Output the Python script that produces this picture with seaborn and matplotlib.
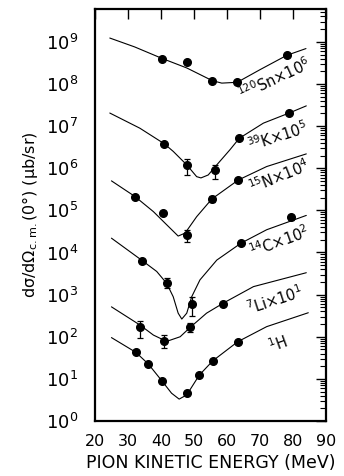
import numpy as np
import pandas as pd
import seaborn as sns
import matplotlib.pyplot as plt
from matplotlib.ticker import LogLocator, NullFormatter

# measured points: energy (MeV), value, error low, error high
sn_x = [40.2, 47.9, 55.5, 63.1, 78.1]
sn_y = [3.9e8, 3.3e8, 1.2e8, 1.1e8, 4.8e8]
sn_lo = sn_y
sn_hi = sn_y

k_x = [41.0, 47.9, 56.5, 63.7, 78.8]
k_y = [3.8e6, 1.2e6, 9.1e5, 5.1e6, 2.0e7]
k_lo = [3.8e6, 0.7e6, 5.5e5, 5.1e6, 2.0e7]
k_hi = [3.8e6, 1.7e6, 1.2e6, 5.1e6, 2.0e7]

n_x = [32.1, 40.5, 47.8, 55.4, 63.4]
n_y = [2.1e5, 8.5e4, 2.6e4, 1.9e5, 5.2e5]
n_lo = [2.1e5, 7.6e4, 1.8e4, 1.6e5, 5.2e5]
n_hi = [2.1e5, 9.5e4, 3.5e4, 2.2e5, 5.2e5]

c_x = [34.1, 41.7, 49.3, 64.2, 79.3]
c_y = [6.3e3, 1.9e3, 6.0e2, 1.7e4, 6.8e4]
c_lo = [5.6e3, 1.4e3, 3.1e2, 1.7e4, 6.0e4]
c_hi = [7.0e3, 2.5e3, 9.0e2, 1.7e4, 7.6e4]

li_x = [33.6, 41.0, 48.8, 58.9]
li_y = [1.7e2, 8.1e1, 1.7e2, 6.0e2]
li_lo = [9.5e1, 5.4e1, 1.3e2, 6.0e2]
li_hi = [2.4e2, 1.1e2, 2.1e2, 6.0e2]

h_x = [32.4, 36.2, 40.2, 48.0, 51.6, 55.7, 63.2]
h_y = [43, 22, 9.1, 4.6, 12.3, 27, 76]
h_lo = h_y
h_hi = h_y

# theory curves (energy, log10 value)
sn_cx = [24.5, 32.0, 40.2, 47.8, 55.5, 58.4, 63.1, 70.0, 78.1, 83.9]
sn_cy = [9.09, 8.88, 8.61, 8.38, 8.08, 8.02, 8.04, 8.34, 8.68, 8.84]
k_cx = [24.5, 33.6, 41.0, 43.7, 47.8, 50.8, 52.1, 54.3, 56.9, 60.9, 63.7, 71.0, 78.8, 84.0]
k_cy = [7.31, 6.95, 6.58, 6.40, 6.08, 5.80, 5.77, 5.84, 6.08, 6.44, 6.71, 7.07, 7.31, 7.48]
n_cx = [25.0, 32.1, 37.7, 41.7, 45.2, 47.3, 50.8, 55.4, 63.4, 72.0, 84.0]
n_cy = [5.70, 5.33, 4.97, 4.66, 4.39, 4.46, 4.85, 5.27, 5.72, 6.04, 6.34]
c_cx = [25.0, 34.1, 38.7, 41.7, 43.7, 45.2, 46.3, 47.8, 49.3, 51.8, 56.9, 64.2, 72.0, 84.0]
c_cy = [4.34, 3.82, 3.55, 3.27, 2.95, 2.56, 2.42, 2.56, 2.95, 3.35, 3.82, 4.22, 4.54, 4.88]
li_cx = [25.0, 33.6, 37.7, 41.7, 45.8, 48.8, 53.8, 58.9, 68.0, 84.0]
li_cy = [2.71, 2.28, 2.04, 1.89, 2.00, 2.22, 2.56, 2.80, 3.19, 3.52]
h_cx = [25.0, 32.4, 36.2, 40.2, 43.2, 45.5, 47.8, 51.6, 55.7, 63.2, 72.0, 84.6]
h_cy = [1.98, 1.63, 1.35, 0.96, 0.66, 0.52, 0.62, 1.09, 1.43, 1.88, 2.24, 2.57]

labels = [r'$^{120}$Sn×10$^{6}$', r'$^{39}$K×10$^{5}$', r'$^{15}$N×10$^{4}$',
          r'$^{14}$C×10$^{2}$', r'$^{7}$Li×10$^{1}$', r'$^{1}$H']
label_x = [74.5, 75.5, 75.8, 75.8, 74.5, 75.5]
label_y = [1.3e8, 5.6e6, 6.3e5, 1.8e4, 7.5e2, 68]
label_rot = [25, 18, 22, 20, 18, 20]

sns.set_style('white')
plt.rcParams['font.family'] = ['DejaVu Sans']
plt.rcParams['mathtext.default'] = 'regular'
for key in ['text.color', 'axes.labelcolor', 'xtick.color', 'ytick.color', 'axes.edgecolor']:
    plt.rcParams[key] = 'black'

fig = plt.figure(figsize=(3.44, 4.76), dpi=100)
ax = fig.add_axes([0.276, 0.1155, 0.672, 0.8655])

points = [(sn_x, sn_y, sn_lo, sn_hi), (k_x, k_y, k_lo, k_hi), (n_x, n_y, n_lo, n_hi),
          (c_x, c_y, c_lo, c_hi), (li_x, li_y, li_lo, li_hi), (h_x, h_y, h_lo, h_hi)]
curves = [(sn_cx, sn_cy), (k_cx, k_cy), (n_cx, n_cy), (c_cx, c_cy), (li_cx, li_cy), (h_cx, h_cy)]

for (cx, cy) in curves:
    df = pd.DataFrame({'E': cx, 'v': np.power(10.0, cy)})
    sns.lineplot(data=df, x='E', y='v', ax=ax, color='black', lw=0.8, sort=False)

for (px, py, plo, phi) in points:
    py = np.array(py, dtype=float)
    yerr = [py - np.array(plo), np.array(phi) - py]
    ax.errorbar(px, py, yerr=yerr, fmt='o', color='black', ms=5.5,
                elinewidth=0.9, capsize=2.5, capthick=0.9)

for t, lx, ly, r in zip(labels, label_x, label_y, label_rot):
    ax.text(lx, ly, t, rotation=r, fontsize=10.5, ha='center', va='center')

ax.set_yscale('log')
ax.set_ylim(1, 6e9)
ax.set_xlim(20, 90)
ax.set_xticks(range(20, 91, 10))
ax.yaxis.set_major_locator(LogLocator(base=10, numticks=20))
ax.yaxis.set_minor_locator(LogLocator(base=10, subs=np.arange(2, 10), numticks=100))
ax.yaxis.set_minor_formatter(NullFormatter())
ax.tick_params(which='both', direction='in', top=True, right=True)
ax.tick_params(which='major', length=7, width=1)
ax.tick_params(which='minor', length=4, width=0.8)
ax.tick_params(axis='x', which='major', labelsize=11.5, pad=9)
ax.tick_params(axis='y', which='major', labelsize=13, pad=12)
for s in ax.spines.values():
    s.set_linewidth(1.6)

ax.set_xlabel('PION KINETIC ENERGY (MeV)', fontsize=12.5, labelpad=4)
ax.set_ylabel(r'd$\sigma$/d$\Omega_{c.m.}$(0°) ($\mu$b/sr)', fontsize=11.5, labelpad=4)

fig.savefig('out.png', dpi=100)
